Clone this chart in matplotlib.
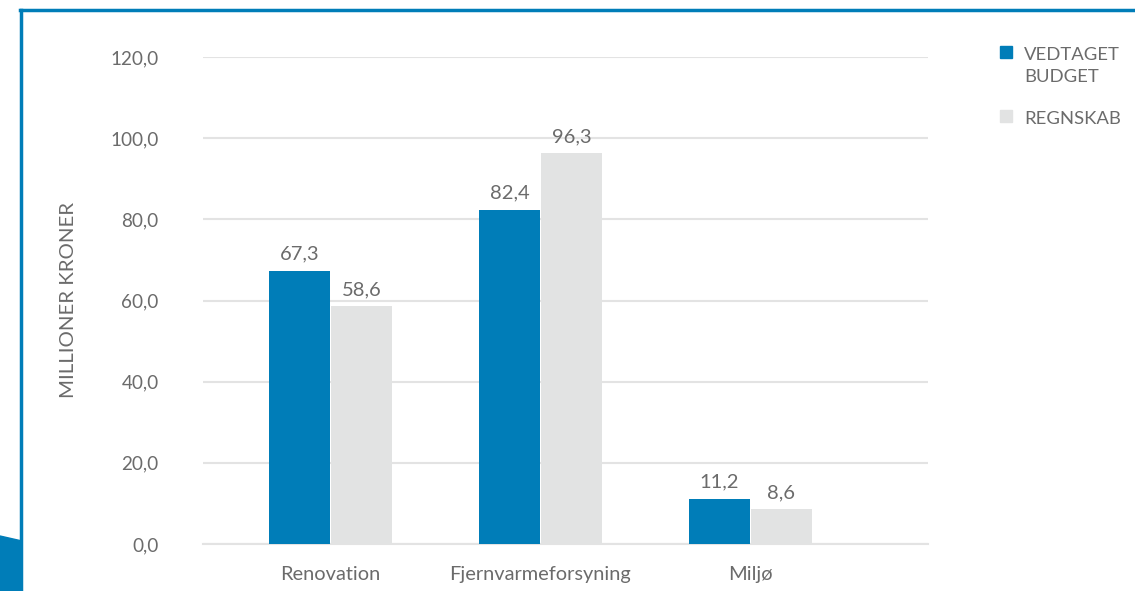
import numpy as np
import matplotlib
matplotlib.use("Agg")
import matplotlib.pyplot as plt
from matplotlib.patches import Polygon, Rectangle
from matplotlib.lines import Line2D

categories = ['Renovation', 'Fjernvarmeforsyning', 'Miljø']
budget = [67.3, 82.4, 11.2]
regnskab = [58.6, 96.3, 8.6]
series_names = ['VEDTAGET\nBUDGET', 'REGNSKAB']
yticks = [0, 20, 40, 60, 80, 100, 120]

BLUE = '#007DB8'
GREY = '#E2E3E3'
TEXT = '#6B6B6B'

plt.rcParams['font.family'] = ['Lato', 'DejaVu Sans']

W, H = 1135, 591
fig = plt.figure(figsize=(W / 100, H / 100), dpi=100)

def fx(px):
    return px / W

def fy(py):
    return 1 - py / H

ax = fig.add_axes([fx(203), fy(544), fx(928) - fx(203), fy(57) - fy(544)])

pos = np.arange(len(categories))
w = 0.29
b1 = ax.bar(pos - w / 2, budget, w, color=BLUE, zorder=3)
b2 = ax.bar(pos + w / 2 + 0.005, regnskab, w, color=GREY, zorder=3)

for bars, vals in ((b1, budget), (b2, regnskab)):
    for r, v in zip(bars, vals):
        ax.text(r.get_x() + r.get_width() / 2, v + 2.0, f'{v:.1f}'.replace('.', ','),
                ha='center', va='bottom', fontsize=14.5, color=TEXT)

ax.set_ylim(0, 120)
ax.set_xlim(-0.605, 2.848)
ax.set_yticks(yticks)
ax.set_yticklabels([f'{t:.1f}'.replace('.', ',') for t in yticks], fontsize=13.6, color=TEXT)
ax.set_xticks(pos)
ax.set_xticklabels(categories, fontsize=14.4, color=TEXT)
ax.tick_params(axis='both', length=0)
ax.tick_params(axis='y', pad=32)
ax.tick_params(axis='x', pad=16)
ax.grid(axis='y', color='#E3E3E3', linewidth=1.5, zorder=0)
for s in ('top', 'right', 'left'):
    ax.spines[s].set_visible(False)
ax.spines['bottom'].set_color('#E3E3E3')
ax.spines['bottom'].set_linewidth(1.5)
ax.set_ylabel('MILLIONER KRONER', fontsize=14.7, color=TEXT, labelpad=24)

# legend drawn by hand so the marker sits on the first text line
legend_rows = [(BLUE, 46), (GREY, 110)]
for (col, top), name in zip(legend_rows, series_names):
    fig.add_artist(Rectangle((fx(1000), fy(top + 12)), fx(12), fy(top) - fy(top + 12),
                             color=col, transform=fig.transFigure))
    fig.text(fx(1024), fy(top + 1), name, ha='left', va='top', fontsize=13.3,
             color=TEXT, linespacing=1.45)

# frame decoration
fig.add_artist(Line2D([fx(20), 1], [fy(10), fy(10)], color=BLUE, linewidth=2.5,
                      transform=fig.transFigure))
fig.add_artist(Line2D([fx(21), fx(21)], [fy(10), fy(591)], color=BLUE, linewidth=2.5,
                      transform=fig.transFigure))
fig.add_artist(Polygon([[0, fy(536)], [fx(22), fy(541)], [fx(22), 0], [0, 0]],
                       closed=True, color=BLUE, transform=fig.transFigure))

fig.savefig('out.png', dpi=100)
